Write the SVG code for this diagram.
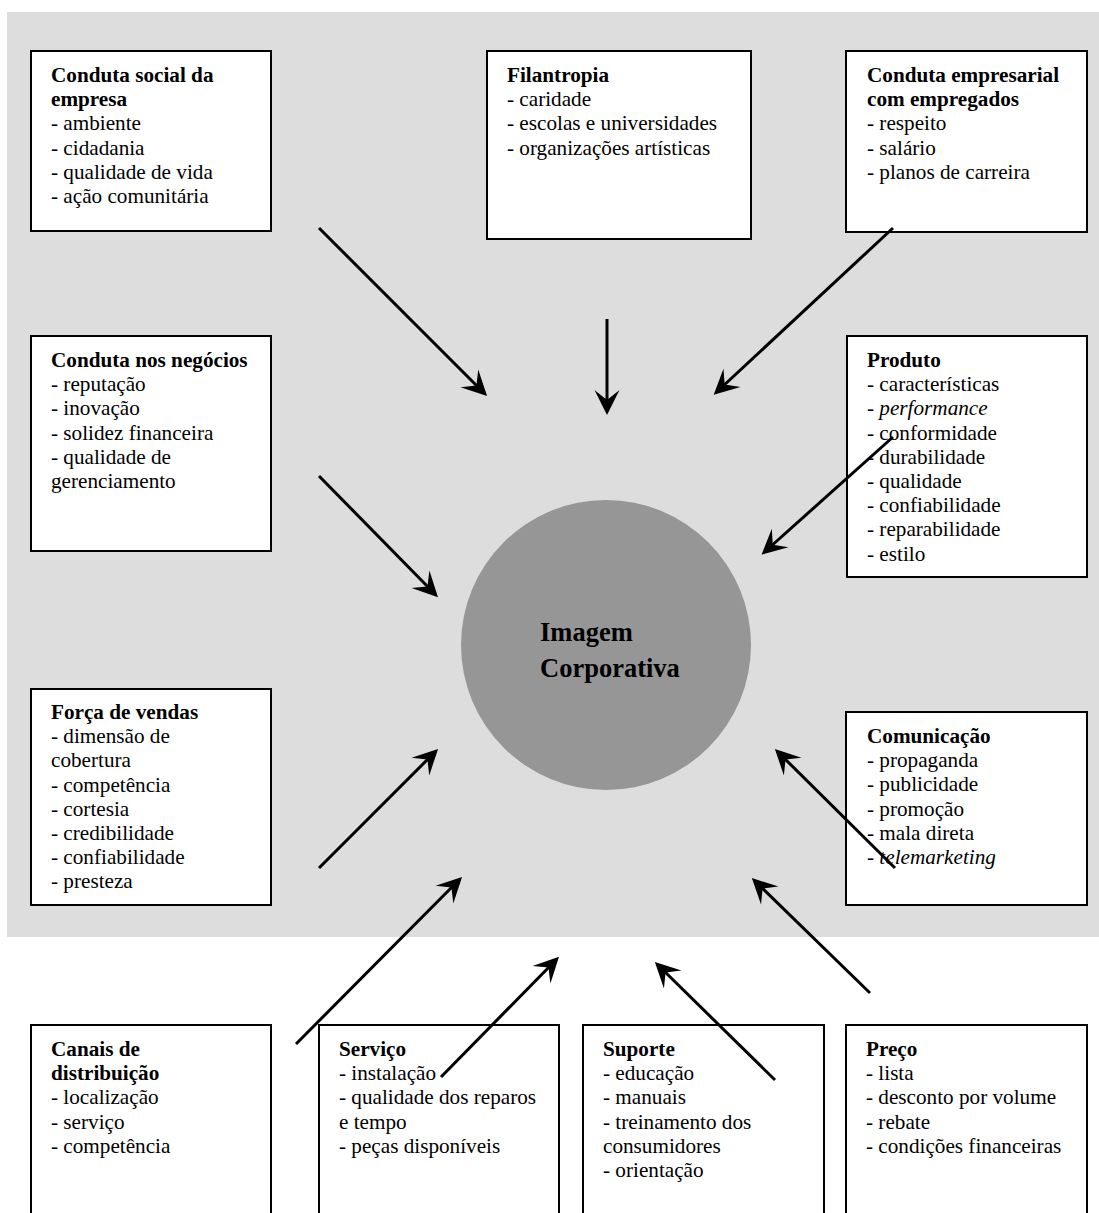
<svg xmlns="http://www.w3.org/2000/svg" width="1099" height="1213" viewBox="0 0 1099 1213">
<style>
.box{fill:#fff;stroke:#000;stroke-width:2}
text{font-family:"Liberation Serif","Times New Roman",serif;font-size:21.2px;fill:#000}
.t{font-weight:bold}
.i{font-style:italic}
.big{font-size:26.5px;font-weight:bold}
.arr{stroke:#000;stroke-width:3;fill:none;marker-end:url(#ah)}
</style>
<defs>
<marker id="ah" markerUnits="userSpaceOnUse" markerWidth="40" markerHeight="40" refX="0" refY="0" orient="auto" overflow="visible">
<path d="M10,0 L-15,-12.5 L-5,0 L-15,12.5 Z" fill="#000"/>
</marker>
</defs>
<rect x="7" y="12" width="1092" height="925" fill="#dddddd"/>
<g id="imagem">
<circle cx="606" cy="645" r="145" fill="#969696"/>
<text class="big" x="540" y="641">Imagem</text>
<text class="big" x="540" y="677">Corporativa</text>
</g>
<g id="conduta-social">
<rect class="box" x="31" y="51" width="240" height="180"/>
<text class="t" x="51" y="82">Conduta social da</text>
<text class="t" x="51" y="106.2">empresa</text>
<text x="51" y="130.4">- ambiente</text>
<text x="51" y="154.6">- cidadania</text>
<text x="51" y="178.8">- qualidade de vida</text>
<text x="51" y="203">- ação comunitária</text>
</g>
<g id="filantropia">
<rect class="box" x="487" y="51" width="264" height="188"/>
<text class="t" x="507" y="82">Filantropia</text>
<text x="507" y="106.2">- caridade</text>
<text x="507" y="130.4">- escolas e universidades</text>
<text x="507" y="154.6">- organizações artísticas</text>
</g>
<g id="conduta-empresarial">
<rect class="box" x="846" y="51" width="241" height="181"/>
<text class="t" x="867" y="82">Conduta empresarial</text>
<text class="t" x="867" y="106.2">com empregados</text>
<text x="867" y="130.4">- respeito</text>
<text x="867" y="154.6">- salário</text>
<text x="867" y="178.8">- planos de carreira</text>
</g>
<g id="conduta-negocios">
<rect class="box" x="31" y="336" width="240" height="215"/>
<text class="t" x="51" y="367">Conduta nos negócios</text>
<text x="51" y="391.2">- reputação</text>
<text x="51" y="415.4">- inovação</text>
<text x="51" y="439.6">- solidez financeira</text>
<text x="51" y="463.8">- qualidade de</text>
<text x="51" y="488">gerenciamento</text>
</g>
<g id="produto">
<rect class="box" x="847" y="336" width="240" height="241"/>
<text class="t" x="867" y="367">Produto</text>
<text x="867" y="391.2">- características</text>
<text x="867" y="415.4">- <tspan class="i">performance</tspan></text>
<text x="867" y="439.6">- conformidade</text>
<text x="867" y="463.8">- durabilidade</text>
<text x="867" y="488">- qualidade</text>
<text x="867" y="512.2">- confiabilidade</text>
<text x="867" y="536.4">- reparabilidade</text>
<text x="867" y="560.6">- estilo</text>
</g>
<g id="forca-vendas">
<rect class="box" x="31" y="689" width="240" height="216"/>
<text class="t" x="51" y="719">Força de vendas</text>
<text x="51" y="743.2">- dimensão de</text>
<text x="51" y="767.4">cobertura</text>
<text x="51" y="791.6">- competência</text>
<text x="51" y="815.8">- cortesia</text>
<text x="51" y="840">- credibilidade</text>
<text x="51" y="864.2">- confiabilidade</text>
<text x="51" y="888.4">- presteza</text>
</g>
<g id="comunicacao">
<rect class="box" x="846" y="712" width="241" height="193"/>
<text class="t" x="867" y="743">Comunicação</text>
<text x="867" y="767.2">- propaganda</text>
<text x="867" y="791.4">- publicidade</text>
<text x="867" y="815.6">- promoção</text>
<text x="867" y="839.8">- mala direta</text>
<text x="867" y="864">- <tspan class="i">telemarketing</tspan></text>
</g>
<g id="canais">
<rect class="box" x="31" y="1025" width="240" height="250"/>
<text class="t" x="51" y="1056">Canais de</text>
<text class="t" x="51" y="1080.2">distribuição</text>
<text x="51" y="1104.4">- localização</text>
<text x="51" y="1128.6">- serviço</text>
<text x="51" y="1152.8">- competência</text>
</g>
<g id="servico">
<rect class="box" x="319" y="1025" width="240" height="250"/>
<text class="t" x="339" y="1056">Serviço</text>
<text x="339" y="1080.2">- instalação</text>
<text x="339" y="1104.4">- qualidade dos reparos</text>
<text x="339" y="1128.6">e tempo</text>
<text x="339" y="1152.8">- peças disponíveis</text>
</g>
<g id="suporte">
<rect class="box" x="583" y="1025" width="241" height="250"/>
<text class="t" x="603" y="1056">Suporte</text>
<text x="603" y="1080.2">- educação</text>
<text x="603" y="1104.4">- manuais</text>
<text x="603" y="1128.6">- treinamento dos</text>
<text x="603" y="1152.8">consumidores</text>
<text x="603" y="1177">- orientação</text>
</g>
<g id="preco">
<rect class="box" x="846" y="1025" width="241" height="250"/>
<text class="t" x="866" y="1056">Preço</text>
<text x="866" y="1080.2">- lista</text>
<text x="866" y="1104.4">- desconto por volume</text>
<text x="866" y="1128.6">- rebate</text>
<text x="866" y="1152.8">- condições financeiras</text>
</g>
<g id="connectors">
<line class="arr" x1="319" y1="228" x2="480" y2="389"/>
<line class="arr" x1="607" y1="319" x2="607" y2="405"/>
<line class="arr" x1="893" y1="228" x2="721" y2="388"/>
<line class="arr" x1="319" y1="476" x2="431" y2="590"/>
<line class="arr" x1="893" y1="437" x2="769" y2="548"/>
<line class="arr" x1="319" y1="868" x2="431" y2="756"/>
<line class="arr" x1="895" y1="868" x2="782" y2="756"/>
<line class="arr" x1="296" y1="1044" x2="455" y2="884"/>
<line class="arr" x1="441" y1="1077" x2="552" y2="964"/>
<line class="arr" x1="775" y1="1080" x2="662" y2="969"/>
<line class="arr" x1="870" y1="993" x2="759" y2="885"/>
</g>
</svg>
